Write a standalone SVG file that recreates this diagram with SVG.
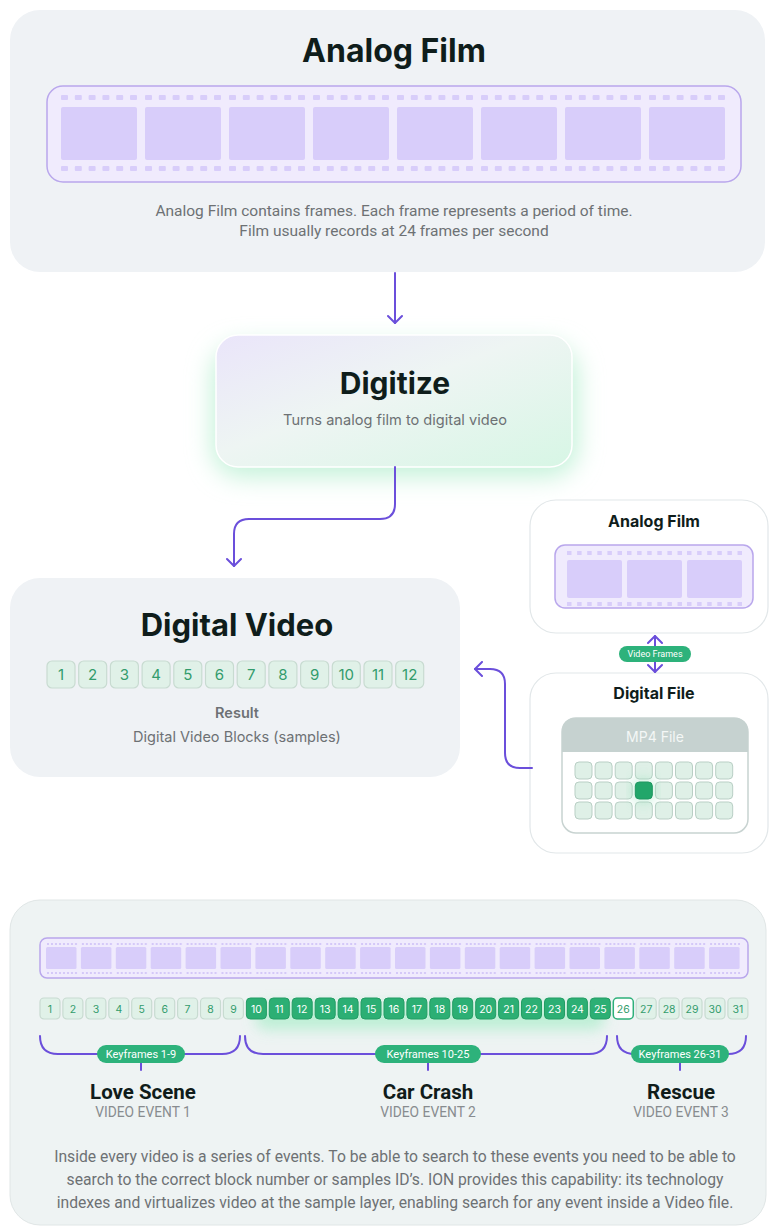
<svg xmlns="http://www.w3.org/2000/svg" width="769" height="1228" viewBox="0 0 769 1228">
  <defs>
    <style>
      .panel{fill:#eff2f5}
      .title{font-family:Inter,"Noto Sans",sans-serif;font-weight:700;fill:#0f1d1b;text-anchor:middle}
      .body{font-family:Roboto,"Liberation Sans",sans-serif;fill:#6d7174;text-anchor:middle}
      .ui{font-family:Inter,"Noto Sans",sans-serif;fill:#6d7174;text-anchor:middle}
      .strip{fill:#f0ebfd;stroke:#b9a7ec;stroke-width:1.5}
      .frame{fill:#d8cdfa}
      .blk{fill:#e0f1e8;stroke:#c8dbd1;stroke-width:1.2}
      .blkt{font-family:Inter,"Noto Sans",sans-serif;fill:#339c6c;text-anchor:middle}
      .hot{fill:#2caf74;stroke:#239d64;stroke-width:1}
      .hott{fill:#ffffff}
      .wire{fill:none;stroke:#6b4fdb;stroke-width:2;stroke-linecap:round;stroke-linejoin:round}
      .pill{fill:#2db27b}
      .pillt{font-family:Roboto,"Liberation Sans",sans-serif;fill:#ffffff;text-anchor:middle}
      .card{fill:#ffffff;stroke:#e2e7e9;stroke-width:1.2}
      .cell{fill:#dff0e7;stroke:#b9cfc5;stroke-width:1}
      .event{font-family:Roboto,"Liberation Sans",sans-serif;font-weight:700;fill:#101c1a;text-anchor:middle;font-size:20.5px}
      .sub{font-family:Roboto,"Liberation Sans",sans-serif;fill:#888c8f;text-anchor:middle;font-size:13.8px}
    </style>
    <marker id="chev" viewBox="-10 -8 12 16" refX="0" refY="0" markerWidth="12" markerHeight="16" markerUnits="userSpaceOnUse" orient="auto-start-reverse">
      <path d="M-7,-7 L0,0 L-7,7" fill="none" stroke="#6b4fdb" stroke-width="2" stroke-linecap="round" stroke-linejoin="round"/>
    </marker>
    <!-- sprocket holes of the wide strip -->
    <pattern id="holesL" patternUnits="userSpaceOnUse" x="61" y="95" width="84" height="71">
      <rect x="0" y="0" width="7" height="5" rx="1" fill="#d8cdfa"/>
      <rect x="13.8" y="0" width="7" height="5" rx="1" fill="#d8cdfa"/>
      <rect x="27.6" y="0" width="7" height="5" rx="1" fill="#d8cdfa"/>
      <rect x="41.4" y="0" width="7" height="5" rx="1" fill="#d8cdfa"/>
      <rect x="55.2" y="0" width="7" height="5" rx="1" fill="#d8cdfa"/>
      <rect x="69" y="0" width="7" height="5" rx="1" fill="#d8cdfa"/>
    </pattern>
    <pattern id="holesS" patternUnits="userSpaceOnUse" x="567" y="551" width="60" height="51">
      <rect x="0" y="0" width="4.5" height="4" fill="#d8cdfa"/>
      <rect x="10.1" y="0" width="4.5" height="4" fill="#d8cdfa"/>
      <rect x="20.2" y="0" width="4.5" height="4" fill="#d8cdfa"/>
      <rect x="30.3" y="0" width="4.5" height="4" fill="#d8cdfa"/>
      <rect x="40.4" y="0" width="4.5" height="4" fill="#d8cdfa"/>
      <rect x="50.5" y="0" width="4.5" height="4" fill="#d8cdfa"/>
    </pattern>
    <pattern id="holesT" patternUnits="userSpaceOnUse" x="46" y="943" width="34.9" height="29">
      <rect x="1" y="0" width="2" height="2" fill="#d4c8f8"/>
      <rect x="5" y="0" width="2" height="2" fill="#d4c8f8"/>
      <rect x="9" y="0" width="2" height="2" fill="#d4c8f8"/>
      <rect x="13" y="0" width="2" height="2" fill="#d4c8f8"/>
      <rect x="17" y="0" width="2" height="2" fill="#d4c8f8"/>
      <rect x="21" y="0" width="2" height="2" fill="#d4c8f8"/>
      <rect x="25" y="0" width="2" height="2" fill="#d4c8f8"/>
      <rect x="29" y="0" width="2" height="2" fill="#d4c8f8"/>
    </pattern>
    <linearGradient id="digiFill" x1="0" y1="0" x2="1" y2="1">
      <stop offset="0" stop-color="#eae5fa"/>
      <stop offset="0.45" stop-color="#eef5f3"/>
      <stop offset="1" stop-color="#d7f6e5"/>
    </linearGradient>
    <filter id="soft" x="-30%" y="-60%" width="160%" height="220%">
      <feGaussianBlur stdDeviation="12"/>
    </filter>
    <filter id="softS" x="-30%" y="-100%" width="160%" height="300%">
      <feGaussianBlur stdDeviation="7"/>
    </filter>
  </defs>

  <rect width="769" height="1228" fill="#ffffff"/>

  <!-- Analog film panel -->
  <g id="analog-film">
    <rect class="panel" x="10" y="10" width="755" height="262" rx="30"/>
    <text class="title" x="394" y="62" font-size="32">Analog Film</text>
    <rect class="strip" x="47" y="86" width="694" height="96" rx="16"/>
    <rect x="61" y="95" width="664" height="76" fill="url(#holesL)"/>
    <g class="frame">
      <rect x="61" y="107" width="76" height="53" rx="2"/>
      <rect x="145" y="107" width="76" height="53" rx="2"/>
      <rect x="229" y="107" width="76" height="53" rx="2"/>
      <rect x="313" y="107" width="76" height="53" rx="2"/>
      <rect x="397" y="107" width="76" height="53" rx="2"/>
      <rect x="481" y="107" width="76" height="53" rx="2"/>
      <rect x="565" y="107" width="76" height="53" rx="2"/>
      <rect x="649" y="107" width="76" height="53" rx="2"/>
    </g>
    <text class="body" x="394" y="216" font-size="15.5">Analog Film contains frames. Each frame represents a period of time.</text>
    <text class="body" x="394" y="236" font-size="15.5">Film usually records at 24 frames per second</text>
  </g>

  <!-- Digitize step -->
  <g id="digitize">
    <rect x="212" y="345" width="366" height="132" rx="30" fill="#c4f2d9" filter="url(#soft)"/>
    <rect x="216" y="335" width="356" height="132" rx="22" fill="url(#digiFill)" stroke="#ffffff" stroke-width="1.5"/>
    <text class="title" x="395" y="394" font-size="30">Digitize</text>
    <text class="ui" x="395" y="425" font-size="14.6">Turns analog film to digital video</text>
  </g>

  <!-- Digital video result -->
  <g id="digital-video">
    <rect class="panel" x="10" y="578" width="450" height="199" rx="30"/>
    <text class="title" x="237" y="636" font-size="31">Digital Video</text>
    <g class="blk">
      <rect x="47" y="661" width="28" height="27" rx="5"/>
      <rect x="78.7" y="661" width="28" height="27" rx="5"/>
      <rect x="110.4" y="661" width="28" height="27" rx="5"/>
      <rect x="142.1" y="661" width="28" height="27" rx="5"/>
      <rect x="173.8" y="661" width="28" height="27" rx="5"/>
      <rect x="205.5" y="661" width="28" height="27" rx="5"/>
      <rect x="237.2" y="661" width="28" height="27" rx="5"/>
      <rect x="268.9" y="661" width="28" height="27" rx="5"/>
      <rect x="300.6" y="661" width="28" height="27" rx="5"/>
      <rect x="332.3" y="661" width="28" height="27" rx="5"/>
      <rect x="364" y="661" width="28" height="27" rx="5"/>
      <rect x="395.7" y="661" width="28" height="27" rx="5"/>
    </g>
    <g class="blkt" font-size="15">
      <text x="61" y="680">1</text>
      <text x="92.7" y="680">2</text>
      <text x="124.4" y="680">3</text>
      <text x="156.1" y="680">4</text>
      <text x="187.8" y="680">5</text>
      <text x="219.5" y="680">6</text>
      <text x="251.2" y="680">7</text>
      <text x="282.9" y="680">8</text>
      <text x="314.6" y="680">9</text>
      <text x="346.3" y="680">10</text>
      <text x="378" y="680">11</text>
      <text x="409.7" y="680">12</text>
    </g>
    <text class="ui" x="237" y="718" font-size="14.5" font-weight="600" fill="#5d6266">Result</text>
    <text class="ui" x="237" y="742" font-size="14.5">Digital Video Blocks (samples)</text>
  </g>

  <!-- Small analog film card -->
  <g id="analog-film-card">
    <rect class="card" x="530" y="500" width="238" height="133" rx="26"/>
    <text class="title" x="654" y="527" font-size="16">Analog Film</text>
    <rect class="strip" x="555" y="545" width="198" height="63" rx="10"/>
    <rect x="567" y="551" width="175" height="55" fill="url(#holesS)"/>
    <g class="frame">
      <rect x="567" y="560" width="55" height="38" rx="2"/>
      <rect x="627" y="560" width="55" height="38" rx="2"/>
      <rect x="687" y="560" width="55" height="38" rx="2"/>
    </g>
  </g>

  <!-- Digital file card -->
  <g id="digital-file">
    <rect class="card" x="530" y="673" width="238" height="180" rx="26"/>
    <text class="title" x="654" y="699" font-size="16">Digital File</text>
    <rect x="562" y="718" width="186" height="115" rx="14" fill="#ffffff" stroke="#c8d3d1" stroke-width="1.5"/>
    <path d="M562,752 V732 Q562,718 576,718 H734 Q748,718 748,732 V752 Z" fill="#c6d2d0"/>
    <text x="655" y="742" font-family="Inter,'Noto Sans',sans-serif" font-size="14" fill="#f4f7f6" text-anchor="middle">MP4 File</text>
    <g class="cell">
      <rect x="575" y="762" width="17" height="17" rx="4"/>
      <rect x="595.1" y="762" width="17" height="17" rx="4"/>
      <rect x="615.2" y="762" width="17" height="17" rx="4"/>
      <rect x="635.3" y="762" width="17" height="17" rx="4"/>
      <rect x="655.4" y="762" width="17" height="17" rx="4"/>
      <rect x="675.5" y="762" width="17" height="17" rx="4"/>
      <rect x="695.6" y="762" width="17" height="17" rx="4"/>
      <rect x="715.7" y="762" width="17" height="17" rx="4"/>
      <rect x="575" y="782" width="17" height="17" rx="4"/>
      <rect x="595.1" y="782" width="17" height="17" rx="4"/>
      <rect x="615.2" y="782" width="17" height="17" rx="4"/>
      <rect x="655.4" y="782" width="17" height="17" rx="4"/>
      <rect x="675.5" y="782" width="17" height="17" rx="4"/>
      <rect x="695.6" y="782" width="17" height="17" rx="4"/>
      <rect x="715.7" y="782" width="17" height="17" rx="4"/>
      <rect x="575" y="802" width="17" height="17" rx="4"/>
      <rect x="595.1" y="802" width="17" height="17" rx="4"/>
      <rect x="615.2" y="802" width="17" height="17" rx="4"/>
      <rect x="635.3" y="802" width="17" height="17" rx="4"/>
      <rect x="655.4" y="802" width="17" height="17" rx="4"/>
      <rect x="675.5" y="802" width="17" height="17" rx="4"/>
      <rect x="695.6" y="802" width="17" height="17" rx="4"/>
      <rect x="715.7" y="802" width="17" height="17" rx="4"/>
    </g>
    <rect x="633" y="780" width="21" height="21" rx="6" fill="#8fe0b8" opacity="0.6" filter="url(#softS)"/>
    <rect x="635.3" y="782" width="17" height="17" rx="4" fill="#22a66a" stroke="#1e9660" stroke-width="1"/>
  </g>

  <!-- Connectors -->
  <g id="connectors">
    <path class="wire" d="M395,273 V323" marker-end="url(#chev)"/>
    <path class="wire" d="M395,467 V504 Q395,519 380,519 H249 Q234,519 234,534 V566" marker-end="url(#chev)"/>
    <path class="wire" d="M532,768 H520 Q505,768 505,753 V684 Q505,669 490,669 H475" marker-end="url(#chev)"/>
    <path class="wire" d="M655,636 V672" marker-start="url(#chev)" marker-end="url(#chev)"/>
    <rect class="pill" x="619" y="646" width="72" height="16" rx="8"/>
    <text class="pillt" x="655" y="657.3" font-size="9">Video Frames</text>
  </g>

  <!-- Video event timeline -->
  <g id="video-events">
    <rect x="10" y="900" width="756" height="325" rx="30" fill="#eef3f3" stroke="#e0e6e6" stroke-width="1"/>
    <rect class="strip" x="40" y="938" width="708" height="40" rx="7"/>
    <rect x="46" y="943" width="694" height="31" fill="url(#holesT)"/>
    <g class="frame">
      <rect x="46" y="947" width="30.5" height="22" rx="1.5"/>
      <rect x="80.9" y="947" width="30.5" height="22" rx="1.5"/>
      <rect x="115.8" y="947" width="30.5" height="22" rx="1.5"/>
      <rect x="150.7" y="947" width="30.5" height="22" rx="1.5"/>
      <rect x="185.6" y="947" width="30.5" height="22" rx="1.5"/>
      <rect x="220.5" y="947" width="30.5" height="22" rx="1.5"/>
      <rect x="255.4" y="947" width="30.5" height="22" rx="1.5"/>
      <rect x="290.3" y="947" width="30.5" height="22" rx="1.5"/>
      <rect x="325.2" y="947" width="30.5" height="22" rx="1.5"/>
      <rect x="360.1" y="947" width="30.5" height="22" rx="1.5"/>
      <rect x="395" y="947" width="30.5" height="22" rx="1.5"/>
      <rect x="429.9" y="947" width="30.5" height="22" rx="1.5"/>
      <rect x="464.8" y="947" width="30.5" height="22" rx="1.5"/>
      <rect x="499.7" y="947" width="30.5" height="22" rx="1.5"/>
      <rect x="534.6" y="947" width="30.5" height="22" rx="1.5"/>
      <rect x="569.5" y="947" width="30.5" height="22" rx="1.5"/>
      <rect x="604.4" y="947" width="30.5" height="22" rx="1.5"/>
      <rect x="639.3" y="947" width="30.5" height="22" rx="1.5"/>
      <rect x="674.2" y="947" width="30.5" height="22" rx="1.5"/>
      <rect x="709.1" y="947" width="30.5" height="22" rx="1.5"/>
    </g>

    <!-- glow under keyframes 10-25 -->
    <rect x="255" y="1004" width="350" height="26" rx="12" fill="#b5eed0" opacity="0.85" filter="url(#softS)"/>

    <g class="blk">
      <rect x="40" y="998" width="20" height="21" rx="4"/>
      <rect x="62.9" y="998" width="20" height="21" rx="4"/>
      <rect x="85.9" y="998" width="20" height="21" rx="4"/>
      <rect x="108.8" y="998" width="20" height="21" rx="4"/>
      <rect x="131.7" y="998" width="20" height="21" rx="4"/>
      <rect x="154.7" y="998" width="20" height="21" rx="4"/>
      <rect x="177.6" y="998" width="20" height="21" rx="4"/>
      <rect x="200.5" y="998" width="20" height="21" rx="4"/>
      <rect x="223.4" y="998" width="20" height="21" rx="4"/>
      <rect x="636.2" y="998" width="20" height="21" rx="4"/>
      <rect x="659.1" y="998" width="20" height="21" rx="4"/>
      <rect x="682" y="998" width="20" height="21" rx="4"/>
      <rect x="705" y="998" width="20" height="21" rx="4"/>
      <rect x="727.9" y="998" width="20" height="21" rx="4"/>
    </g>
    <g class="hot">
      <rect x="246.4" y="998" width="20" height="21" rx="4"/>
      <rect x="269.3" y="998" width="20" height="21" rx="4"/>
      <rect x="292.2" y="998" width="20" height="21" rx="4"/>
      <rect x="315.2" y="998" width="20" height="21" rx="4"/>
      <rect x="338.1" y="998" width="20" height="21" rx="4"/>
      <rect x="361" y="998" width="20" height="21" rx="4"/>
      <rect x="384" y="998" width="20" height="21" rx="4"/>
      <rect x="406.9" y="998" width="20" height="21" rx="4"/>
      <rect x="429.8" y="998" width="20" height="21" rx="4"/>
      <rect x="452.7" y="998" width="20" height="21" rx="4"/>
      <rect x="475.7" y="998" width="20" height="21" rx="4"/>
      <rect x="498.6" y="998" width="20" height="21" rx="4"/>
      <rect x="521.5" y="998" width="20" height="21" rx="4"/>
      <rect x="544.5" y="998" width="20" height="21" rx="4"/>
      <rect x="567.4" y="998" width="20" height="21" rx="4"/>
      <rect x="590.3" y="998" width="20" height="21" rx="4"/>
    </g>
    <rect x="613.3" y="998" width="20" height="21" rx="4" fill="#ffffff" stroke="#2eb07a" stroke-width="1.5"/>

    <g class="blkt" font-size="10.5">
      <text x="50" y="1012.5">1</text>
      <text x="72.9" y="1012.5">2</text>
      <text x="95.9" y="1012.5">3</text>
      <text x="118.8" y="1012.5">4</text>
      <text x="141.7" y="1012.5">5</text>
      <text x="164.7" y="1012.5">6</text>
      <text x="187.6" y="1012.5">7</text>
      <text x="210.5" y="1012.5">8</text>
      <text x="233.4" y="1012.5">9</text>
      <text x="623.3" y="1012.5">26</text>
      <text x="646.2" y="1012.5">27</text>
      <text x="669.1" y="1012.5">28</text>
      <text x="692" y="1012.5">29</text>
      <text x="715" y="1012.5">30</text>
      <text x="737.9" y="1012.5">31</text>
    </g>
    <g class="blkt hott" font-size="10.5">
      <text x="256.4" y="1012.5">10</text>
      <text x="279.3" y="1012.5">11</text>
      <text x="302.2" y="1012.5">12</text>
      <text x="325.2" y="1012.5">13</text>
      <text x="348.1" y="1012.5">14</text>
      <text x="371" y="1012.5">15</text>
      <text x="394" y="1012.5">16</text>
      <text x="416.9" y="1012.5">17</text>
      <text x="439.8" y="1012.5">18</text>
      <text x="462.7" y="1012.5">19</text>
      <text x="485.7" y="1012.5">20</text>
      <text x="508.6" y="1012.5">21</text>
      <text x="531.5" y="1012.5">22</text>
      <text x="554.5" y="1012.5">23</text>
      <text x="577.4" y="1012.5">24</text>
      <text x="600.3" y="1012.5">25</text>
    </g>
  </g>

  <g id="event-love-scene">
    <path class="wire" d="M40,1036 Q40,1054 58,1054 H222 Q240,1054 240,1036"/>
    <path class="wire" d="M141,1062 V1070"/>
    <rect class="pill" x="97" y="1045" width="88" height="18" rx="9"/>
    <text class="pillt" x="141" y="1057.8" font-size="11">Keyframes 1-9</text>
    <text class="event" x="143" y="1099">Love Scene</text>
    <text class="sub" x="143" y="1117">VIDEO EVENT 1</text>
  </g>

  <g id="event-car-crash">
    <path class="wire" d="M245,1036 Q245,1054 263,1054 H589 Q607,1054 607,1036"/>
    <path class="wire" d="M428,1062 V1070"/>
    <rect class="pill" x="375" y="1045" width="106" height="18" rx="9"/>
    <text class="pillt" x="428" y="1057.8" font-size="11">Keyframes 10-25</text>
    <text class="event" x="428" y="1099">Car Crash</text>
    <text class="sub" x="428" y="1117">VIDEO EVENT 2</text>
  </g>

  <g id="event-rescue">
    <path class="wire" d="M617,1036 Q617,1054 635,1054 H728 Q746,1054 746,1036"/>
    <path class="wire" d="M680,1062 V1070"/>
    <rect class="pill" x="631" y="1045" width="98" height="18" rx="9"/>
    <text class="pillt" x="680" y="1057.8" font-size="11">Keyframes 26-31</text>
    <text class="event" x="681" y="1099">Rescue</text>
    <text class="sub" x="681" y="1117">VIDEO EVENT 3</text>
  </g>

  <g id="summary">
    <text class="body" x="395" y="1162" font-size="15.7">Inside every video is a series of events. To be able to search to these events you need to be able to</text>
    <text class="body" x="395" y="1185" font-size="15.7">search to the correct block number or samples ID’s. ION provides this capability: its technology</text>
    <text class="body" x="395" y="1208" font-size="15.7">indexes and virtualizes video at the sample layer, enabling search for any event inside a Video file.</text>
  </g>
</svg>
